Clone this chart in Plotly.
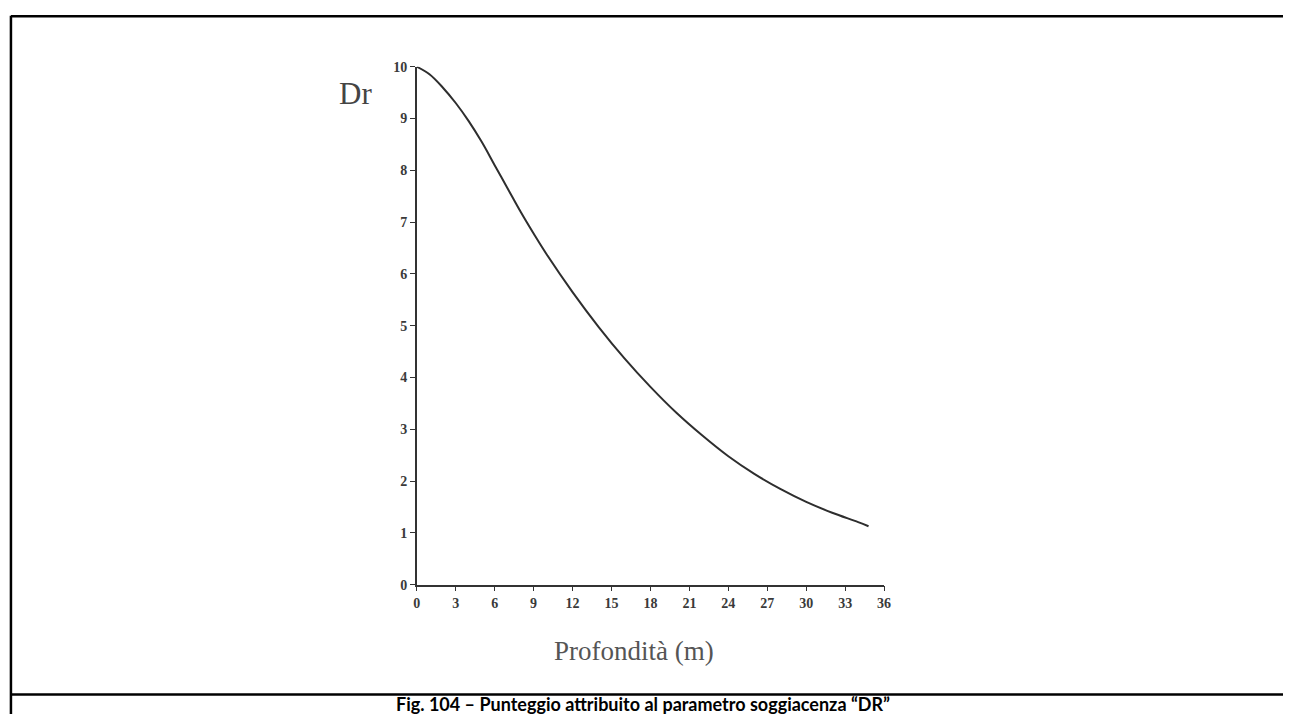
import plotly.graph_objects as go

# Data (depth in m vs Dr score)
depth = [0, 1, 2, 3, 4, 5, 6, 7, 8, 9, 10, 12, 14, 16, 18, 20, 22, 24, 26, 28, 30, 32, 34, 34.8]
score = [10.0, 9.85, 9.6, 9.3, 8.95, 8.55, 8.1, 7.65, 7.2, 6.78, 6.38, 5.65, 4.98, 4.37, 3.82, 3.32,
         2.88, 2.48, 2.14, 1.85, 1.6, 1.39, 1.21, 1.13]
x_ticks = [0, 3, 6, 9, 12, 15, 18, 21, 24, 27, 30, 33, 36]
y_ticks = [0, 1, 2, 3, 4, 5, 6, 7, 8, 9, 10]

W, H = 1290, 722
x0_px, x1_px = 417, 888
y0_px, y1_px = 590, 61

fig = go.Figure()
fig.add_trace(go.Scatter(x=depth, y=score, mode="lines",
                         line=dict(color="#2e2e2e", width=2, shape="spline", smoothing=1.0),
                         hoverinfo="skip", showlegend=False))

tickfont = dict(family="Liberation Serif, DejaVu Serif, serif", size=14, color="#3a3a3a")
fig.update_layout(
    width=W, height=H,
    margin=dict(l=0, r=0, t=0, b=0),
    paper_bgcolor="white", plot_bgcolor="white",
    xaxis=dict(domain=[x0_px / W, x1_px / W], range=[0, 36], tickvals=x_ticks,
               ticktext=[f"<b>{v}</b>" for v in x_ticks],
               showgrid=False, zeroline=False, showline=True, linecolor="#333333", linewidth=1.5,
               ticks="outside", ticklen=5, tickwidth=1.2, tickcolor="#333333", tickfont=tickfont),
    yaxis=dict(domain=[1 - y0_px / H, 1 - y1_px / H], range=[0, 10], tickvals=y_ticks,
               ticktext=[f"<b>{v}</b>" for v in y_ticks],
               showgrid=False, zeroline=False, showline=True, linecolor="#333333", linewidth=1.5,
               ticks="outside", ticklen=5, tickwidth=1.2, tickcolor="#333333", tickfont=tickfont),
)

# Axis labels
fig.add_annotation(text="Dr", x=355 / W, y=1 - 88 / H, xref="paper", yref="paper", showarrow=False,
                   xanchor="center", yanchor="middle",
                   font=dict(family="Liberation Serif, DejaVu Serif, serif", size=31, color="#444444"))
fig.add_annotation(text="Profondità (m)", x=636 / W, y=1 - 658 / H, xref="paper", yref="paper", showarrow=False,
                   xanchor="center", yanchor="middle",
                   font=dict(family="Liberation Serif, DejaVu Serif, serif", size=27, color="#555555"))

# Caption
fig.add_annotation(text="<b>Fig. 104 – Punteggio attribuito al parametro soggiacenza “DR”</b>",
                   x=645 / W, y=1 - 712 / H, xref="paper", yref="paper", showarrow=False,
                   xanchor="center", yanchor="middle",
                   font=dict(family="Lato, Open Sans, sans-serif", size=18, color="#000000"))

# Frame lines
frame = dict(color="black", width=2.5)
fig.add_shape(type="line", xref="paper", yref="paper", x0=8 / W, x1=8 / W, y0=0, y1=1 - 9 / H, line=frame)
fig.add_shape(type="line", xref="paper", yref="paper", x0=8 / W, x1=1, y0=1 - 9.5 / H, y1=1 - 9.5 / H, line=frame)
fig.add_shape(type="line", xref="paper", yref="paper", x0=8 / W, x1=1, y0=1 - 702 / H, y1=1 - 702 / H, line=frame)

fig.write_html("out.html",
               config={"displayModeBar": False},
               post_script="document.body.style.margin='0';document.body.style.overflow='hidden';"
                           "document.documentElement.style.overflow='hidden';")
